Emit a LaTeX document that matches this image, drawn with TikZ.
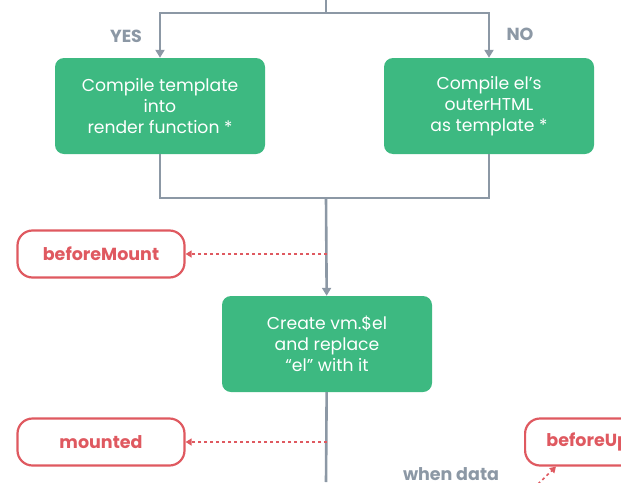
\documentclass[tikz,border=0pt]{standalone}
\usepackage{fontspec}
\setmainfont{Poppins}
\usetikzlibrary{arrows.meta}
\definecolor{vuegreen}{HTML}{3DB981}
\definecolor{flowgray}{HTML}{8C98A5}
\definecolor{hookred}{HTML}{DF5960}
\begin{document}
\begin{tikzpicture}[x=1pt,y=-1pt,
	stepbox/.style={fill=vuegreen, rounded corners=9pt, text=white, align=center,
		minimum width=210pt, minimum height=96pt, font=\fontsize{17.2}{21}\selectfont},
	hookbox/.style={draw=hookred, line width=2.2pt, rounded corners=15pt, text=hookred,
		minimum width=167pt, minimum height=47pt, font=\bfseries\fontsize{17.5}{20}\selectfont},
	branch/.style={text=flowgray, font=\bfseries\fontsize{17.5}{20}\selectfont},
	line/.style={draw=flowgray, line width=2.6pt},
	flow/.style={line, -{Triangle[width=9pt,length=8pt]}},
	hook/.style={draw=hookred, line width=1.6pt, dash pattern=on 3pt off 3pt, -{Triangle[width=7pt,length=6pt]}}]
	\clip (0,0) rectangle (621,482);
	% compile step
	\node[stepbox] (tmpl) at (160,106) {Compile template\\into\\render function *};
	\node[stepbox] (outer) at (489,106) {Compile el's\\outerHTML\\as template *};
	\node[branch] (yes) at (126,36) {YES};
	\node[branch] (no) at (520,34) {NO};
	\coordinate (top) at (326,0);
	\coordinate (split) at (326,13);
	\coordinate (join) at (326,198);
	\draw[line] (top) -- (split);
	\draw[flow] (split) -| (tmpl);
	\draw[flow] (split) -| (outer);
	\draw[line] (tmpl) |- (join);
	\draw[line] (outer) |- (join);
	
	% mount
	\node[stepbox] (create) at (327,344) {Create vm.\$el\\and replace\\“el” with it};
	\node[hookbox] (bmount) at (101,254) {beforeMount};
	\node[hookbox] (mounted) at (101,442) {mounted};
	\node[hookbox, anchor=west] (bupdate) at (524,442) {beforeUpdate};
	\node[branch] (when) at (451,474) {when data};
	\coordinate (bottom) at (326,482);
	\coordinate (change) at (538,484);
	\draw[flow] (join) -- (create);
	\draw[line] (create) -- (bottom);
	\draw[hook] (create.north |- bmount) -- (bmount);
	\draw[hook] (create.south |- mounted) -- (mounted);
	\draw[hook] (change) -- ([xshift=32pt]bupdate.south west);
\end{tikzpicture}
\end{document}
